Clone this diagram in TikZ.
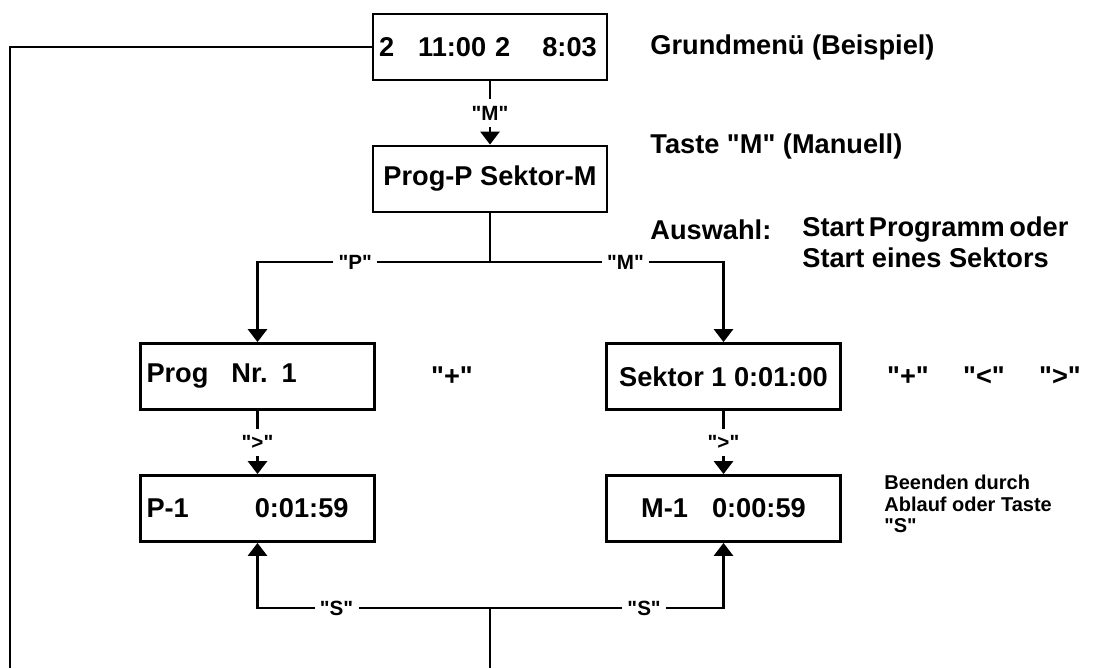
\documentclass[tikz,border=0pt]{standalone}
\usepackage{fontspec}
\setmainfont{Liberation Sans}
\usetikzlibrary{arrows.meta,positioning,calc}
\newcommand{\qq}[1]{\textquotedbl#1\textquotedbl}
\tikzset{
  >={Triangle[length=6.5pt,width=9.5pt]},
  box/.style={draw, line width=1.4pt, minimum width=117pt, minimum height=33pt,
              inner sep=2pt, font=\fontsize{13.6}{16}\selectfont\bfseries},
  lbox/.style={box, text width=111pt, align=left},
  lbl/.style={fill=white, inner xsep=2.7pt, inner ysep=3.4pt,
              font=\fontsize{10.3}{12}\selectfont\bfseries},
  ann/.style={anchor=west, inner sep=0pt, font=\fontsize{13.6}{16}\selectfont\bfseries},
  key/.style={inner sep=0pt, font=\fontsize{13.6}{16}\selectfont\bfseries},
  note/.style={anchor=north west, align=left, inner sep=0pt,
              font=\fontsize{10}{10.6}\selectfont\bfseries},
  wire/.style={line width=1.4pt},
  flow/.style={->, line width=1.4pt},
}
\begin{document}
\begin{tikzpicture}[x=0.5pt,y=-0.5pt]
        \useasboundingbox (0,0) rectangle (1095,668);
        % display states
        \node[lbox] (grund) at (490,47){2\hspace{12pt}11:00 2\hspace{16pt}8:03};
        \node[box] (prog) at (490,179){Prog-P Sektor-M};
        \node[lbox] (prognr) at (257.5,376.5){Prog\hspace{11.5pt}Nr.\hspace{7pt}1};
        \node[box] (sektor) at (723.5,376.5){Sektor 1 0:01:00};
        \node[lbox] (p1) at (257.5,508.5){P-1\hspace{33pt}0:01:59};
        \node[box] (m1) at (723.5,508.5){M-1\hspace{12pt}0:00:59};
        % comments on the right
        \node[ann] (tgrund) at (650,47){Grundmenü (Beispiel)};
        \node[ann] (ttaste) at (650,146){Taste \qq{M} (Manuell)};
        \node[ann] (tausw) at (650,230){Auswahl:};
        \node[ann] (tprog) at (802,230){Start\,Programm\,oder};
        \node[ann] (tsek) at (802,258){Start eines Sektors};
        \node[key] (kplus) at (452,376){\qq{+}};
        \node[key] (kplus2) at (908,376){\qq{+}};
        \node[key] (kless) at (984,376){\qq{<}};
        \node[key] (kmore) at (1060,376){\qq{>}};
        \node[note] (tende) at (884,475){Beenden durch\\Ablauf oder Taste\\\qq{S}};
        % connectors
        \coordinate (split) at (490,262);
        \coordinate (stop) at (490,608);
        \coordinate (exit) at (490,668);
        \coordinate (back) at (10,668);
        \draw[flow] (grund) -- node[lbl]{\qq{M}} (prog);
        \draw[wire] (prog) -- (split);
        \draw[flow] (split) -| node[lbl,pos=0.29]{\qq{P}} (prognr);
        \draw[flow] (split) -| node[lbl,pos=0.29]{\qq{M}} (sektor);
        \draw[flow] (prognr) -- node[lbl]{\qq{>}} (p1);
        \draw[flow] (sektor) -- node[lbl]{\qq{>}} (m1);
        \draw[wire] (exit) -- (stop);
        \draw[flow] (stop) -| node[lbl,pos=0.33]{\qq{S}} (p1);
        \draw[flow] (stop) -| node[lbl,pos=0.33]{\qq{S}} (m1);
        \draw[wire] (grund) -| (back);
      \end{tikzpicture}
\end{document}
